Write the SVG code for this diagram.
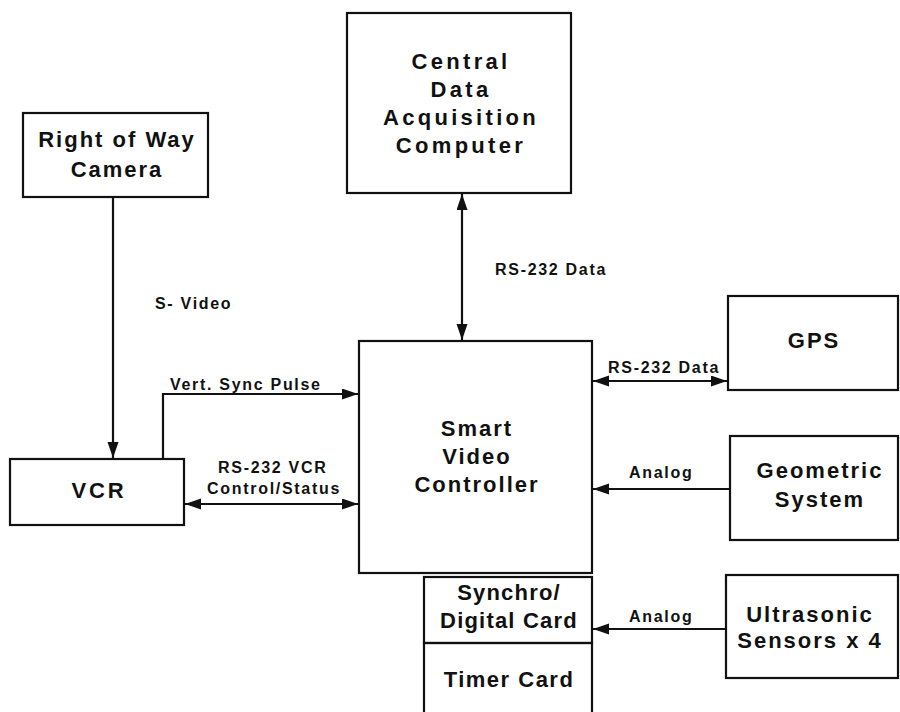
<svg xmlns="http://www.w3.org/2000/svg" width="900" height="712" viewBox="0 0 900 712">
<style>
.box{fill:none;stroke:#111;stroke-width:2.2}
.t{font-family:"Liberation Sans",Arial,sans-serif;font-weight:bold;font-size:22px;fill:#111;text-anchor:middle;letter-spacing:2px}
.l{font-family:"Liberation Sans",Arial,sans-serif;font-weight:bold;font-size:16px;fill:#111;letter-spacing:1.7px}
.c{fill:none;stroke:#111;stroke-width:2.2}
</style>
<defs>
<marker id="ah" markerUnits="userSpaceOnUse" markerWidth="18" markerHeight="12" refX="16" refY="5.5" orient="auto-start-reverse">
<path d="M0,0 L16,5.5 L0,11 z" fill="#111"/>
</marker>
</defs>
<rect width="900" height="712" fill="#fff"/>
<g id="central">
<rect class="box" x="347" y="13" width="224" height="180"/>
<text class="t" style="letter-spacing:3.3px" x="461" y="69">Central</text>
<text class="t" style="letter-spacing:3.3px" x="461" y="97">Data</text>
<text class="t" style="letter-spacing:3.3px" x="461" y="125">Acquisition</text>
<text class="t" style="letter-spacing:3.3px" x="461" y="153">Computer</text>
</g>
<g id="camera">
<rect class="box" x="23" y="113" width="185" height="84"/>
<text class="t" x="117" y="147">Right of Way</text>
<text class="t" x="117" y="177">Camera</text>
</g>
<g id="vcr">
<rect class="box" x="10" y="459" width="174" height="66"/>
<text class="t" style="letter-spacing:2.8px" x="99" y="498">VCR</text>
</g>
<g id="svc">
<rect class="box" x="359" y="341" width="233" height="232"/>
<text class="t" x="477" y="436">Smart</text>
<text class="t" x="477" y="464">Video</text>
<text class="t" x="477" y="492">Controller</text>
</g>
<g id="gps">
<rect class="box" x="728" y="296" width="170" height="94"/>
<text class="t" x="814" y="348">GPS</text>
</g>
<g id="geometric">
<rect class="box" x="730" y="436" width="168" height="104"/>
<text class="t" x="820" y="478">Geometric</text>
<text class="t" x="820" y="507">System</text>
</g>
<g id="synchro">
<rect class="box" x="424" y="577" width="168" height="66"/>
<text class="t" style="letter-spacing:1.2px" x="509" y="600">Synchro/</text>
<text class="t" style="letter-spacing:1.2px" x="509" y="628">Digital Card</text>
</g>
<g id="timer">
<rect class="box" x="424" y="643" width="168" height="80"/>
<text class="t" style="letter-spacing:1.5px" x="509" y="687">Timer Card</text>
</g>
<g id="ultrasonic">
<rect class="box" x="726" y="575" width="172" height="103"/>
<text class="t" x="810" y="622">Ultrasonic</text>
<text class="t" x="810" y="648">Sensors x 4</text>
</g>
<g id="connectors">
<line class="c" x1="113" y1="197" x2="113" y2="458" marker-end="url(#ah)"/>
<polyline class="c" points="163,459 163,394 358,394" marker-end="url(#ah)"/>
<line class="c" x1="185" y1="504" x2="358" y2="504" marker-start="url(#ah)" marker-end="url(#ah)"/>
<line class="c" x1="462" y1="194" x2="462" y2="340" marker-start="url(#ah)" marker-end="url(#ah)"/>
<line class="c" x1="593" y1="381" x2="727" y2="381" marker-start="url(#ah)" marker-end="url(#ah)"/>
<line class="c" x1="730" y1="489" x2="593" y2="489" marker-end="url(#ah)"/>
<line class="c" x1="726" y1="629" x2="593" y2="629" marker-end="url(#ah)"/>
<text class="l" x="155" y="309">S- Video</text>
<text class="l" x="170" y="390">Vert. Sync Pulse</text>
<text class="l" x="218" y="473">RS-232 VCR</text>
<text class="l" x="207" y="494">Control/Status</text>
<text class="l" x="495" y="275">RS-232 Data</text>
<text class="l" x="608" y="373">RS-232 Data</text>
<text class="l" x="629" y="478">Analog</text>
<text class="l" x="629" y="622">Analog</text>
</g>
</svg>
